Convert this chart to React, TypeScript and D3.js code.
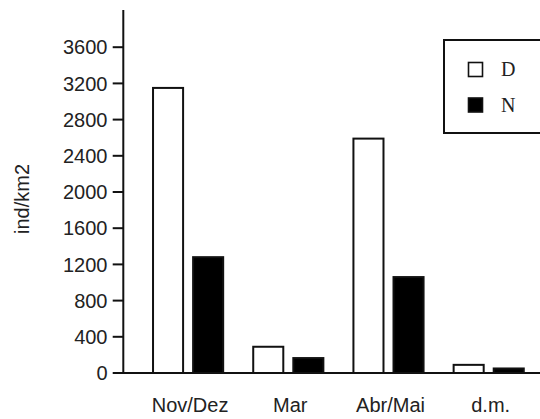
import React from "react";
import * as d3 from "d3";

const categories = ["Nov/Dez", "Mar", "Abr/Mai", "d.m."];
const seriesNames = ["D", "N"];
const valuesD = [3150, 290, 2590, 90];
const valuesN = [1280, 165, 1060, 50];
const yTicks = [0, 400, 800, 1200, 1600, 2000, 2400, 2800, 3200, 3600];
const yTitle = "ind/km2";

const W = 540;
const H = 419;

export default function App() {
  const y = d3.scaleLinear().domain([0, 4000]).range([373, 11]);
  const x0 = d3
    .scaleBand<string>()
    .domain(categories)
    .range([138, 538.8])
    .paddingInner(0.3)
    .paddingOuter(0.15);
  const x1 = d3
    .scaleBand<string>()
    .domain(seriesNames)
    .range([0, x0.bandwidth()])
    .paddingInner(0.25);

  const axisX = 123.3;
  const sans = "'Liberation Sans', Arial, sans-serif";
  const serif = "'Liberation Serif', 'Times New Roman', serif";
  const ink = "#111";

  const data = categories.map((c, i) => ({ c, D: valuesD[i], N: valuesN[i] }));

  return (
    <svg
      width={W}
      height={H}
      style={{ position: "absolute", left: 0, top: 0, background: "#fff" }}
    >
      <rect x={0} y={0} width={W} height={H} fill="#fff" />
      {/* bars */}
      {data.map((d) =>
        seriesNames.map((s) => {
          const v = (d as any)[s] as number;
          const bx = (x0(d.c) as number) + (x1(s) as number);
          return (
            <rect
              key={d.c + s}
              x={bx}
              y={y(v)}
              width={x1.bandwidth()}
              height={y(0) - y(v)}
              fill={s === "D" ? "#fff" : "#000"}
              stroke={ink}
              strokeWidth={2}
            />
          );
        })
      )}
      {/* y axis */}
      <line x1={axisX} x2={axisX} y1={y(4000) - 1} y2={y(0)} stroke={ink} strokeWidth={2} />
      {yTicks.map((t) => (
        <g key={t}>
          <line x1={112.7} x2={axisX} y1={y(t)} y2={y(t)} stroke={ink} strokeWidth={2} />
          <text
            x={107.5}
            y={y(t)}
            dy="0.36em"
            textAnchor="end"
            fontFamily={sans}
            fontSize={20}
            fill="#222"
          >
            {t}
          </text>
        </g>
      ))}
      {/* x axis */}
      <line x1={axisX - 1} x2={W} y1={y(0)} y2={y(0)} stroke={ink} strokeWidth={2} />
      {categories.map((c) => (
        <text
          key={c}
          x={(x0(c) as number) + x0.bandwidth() / 2 + 2}
          y={411.5}
          textAnchor="middle"
          fontFamily={sans}
          fontSize={20}
          fill="#222"
        >
          {c}
        </text>
      ))}
      {/* y title */}
      <text
        transform={`translate(29,199) rotate(-90)`}
        textAnchor="middle"
        fontFamily={sans}
        fontSize={20}
        fill="#222"
      >
        {yTitle}
      </text>
      {/* legend */}
      <rect x={444} y={40} width={130} height={93} fill="#fff" stroke={ink} strokeWidth={2} />
      {seriesNames.map((s, i) => (
        <g key={s}>
          <rect
            x={468.5}
            y={62.5 + i * 35.5}
            width={14}
            height={14}
            fill={s === "D" ? "#fff" : "#000"}
            stroke={ink}
            strokeWidth={1.6}
          />
          <text
            x={501}
            y={76 + i * 36}
            fontFamily={serif}
            fontSize={20}
            fill="#222"
          >
            {s}
          </text>
        </g>
      ))}
    </svg>
  );
}
